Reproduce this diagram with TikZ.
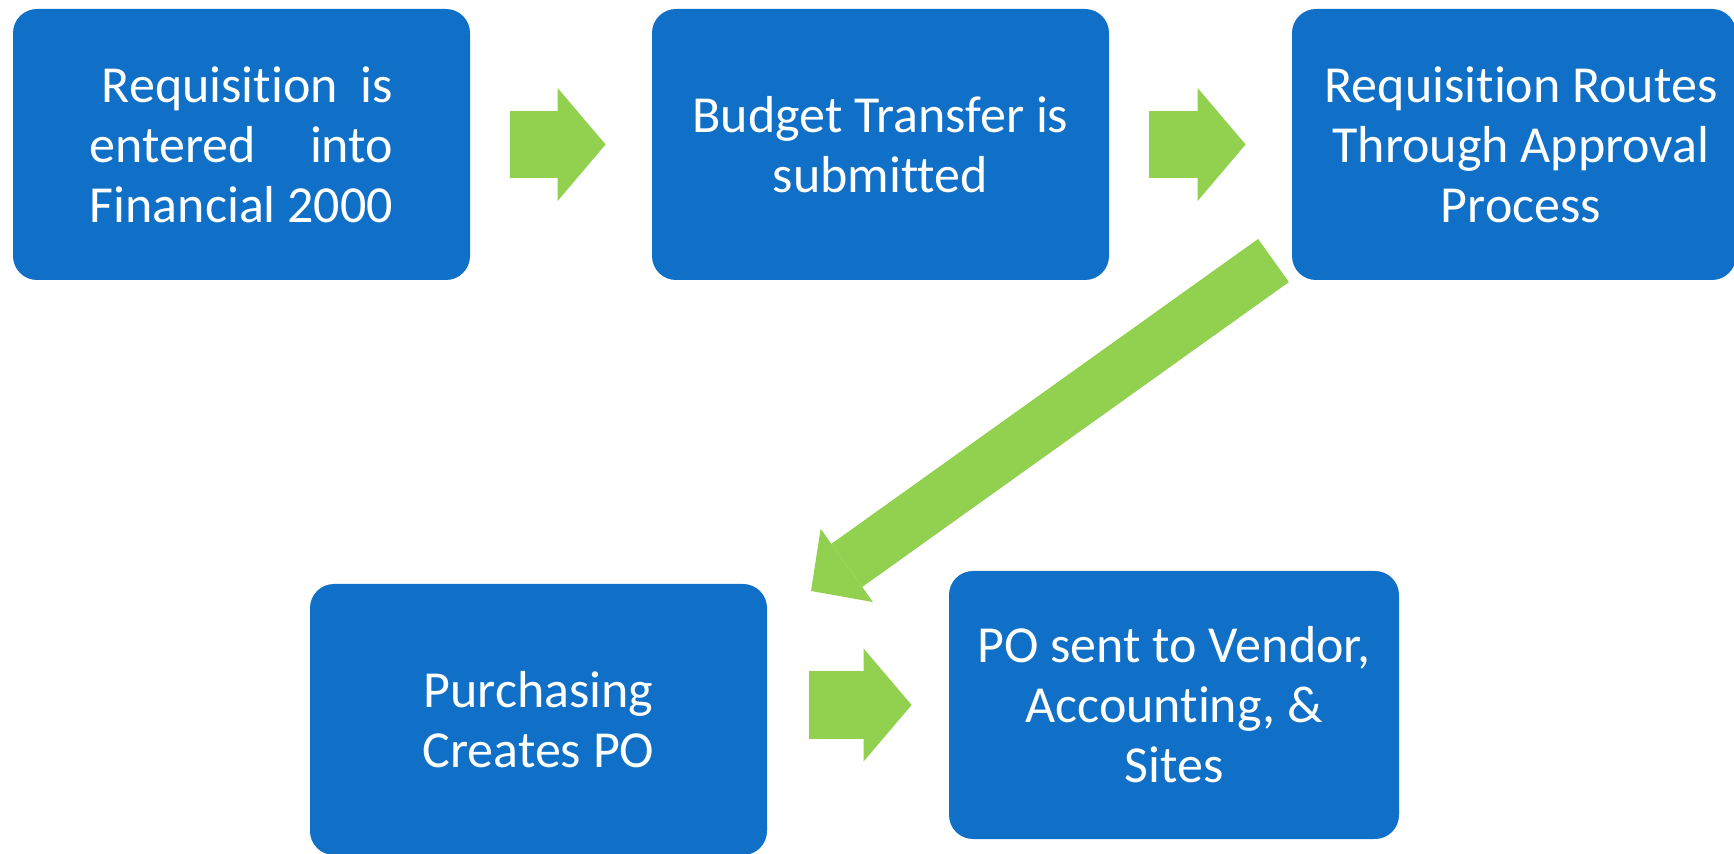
\documentclass[tikz,border=0pt]{standalone}
\usepackage{fontspec}
\setmainfont{Carlito}[Ligatures=NoCommon]
\usetikzlibrary{arrows.meta}

\definecolor{stepblue}{RGB}{16,111,198}
\definecolor{flowgreen}{RGB}{146,208,80}
\newsavebox\finbox

\begin{document}
\sbox\finbox{\fontsize{26}{30}\selectfont Financial 2000}%
\begin{tikzpicture}[x=0.5pt, y=-0.5pt,
    box/.style={fill=stepblue, text=white, rounded corners=12pt, inner sep=0pt,
      minimum width=228.5pt, minimum height=135.5pt, align=center,
      font=\fontsize{26}{30}\selectfont},
    flow/.style={draw=flowgreen, line width=33.5pt, shorten <=20pt, shorten >=23pt,
      -{Triangle[length=24pt, width=56.5pt, line width=0pt]}}]
    \useasboundingbox (0,0) rectangle (1734,854);
    \clip (0,0) rectangle (1734,854);

    \node[box] (req) at (241.5,144.5) {%
      \makebox[\wd\finbox][s]{\hspace*{6pt}Requisition is}\\
      \makebox[\wd\finbox][s]{entered into}\\
      Financial 2000};
    \node[box] (budget) at (880.5,144.5) {Budget Transfer is\\ submitted};
    \node[box, minimum width=222pt] (route) at (1514,144.5)
      {\hspace*{7pt}Requisition Routes\\ \hspace*{7pt}Through Approval\\ \hspace*{7pt}Process};
    \node[box] (purch) at (538.5,719.5) {Purchasing\\ Creates PO};
    \node[box, minimum width=225pt, minimum height=134pt] (sent) at (1174,705)
      {PO sent to Vendor,\\ Accounting, \&\\ Sites};

    \draw[flow] (req) -- (budget);
    \draw[flow] (budget) -- (route);

    % long arrow back down to the second row
    \coordinate (bendtail) at (1273.5,260.5);
    \coordinate (bendtip) at (811,591);
    \draw[flow, line width=26.5pt, shorten <=0pt, shorten >=0pt,
      -{Triangle[length=22pt, width=45pt, line width=0pt]}] (bendtail) -- (bendtip);

    \draw[flow, shorten <=21pt, shorten >=18.5pt] (purch.east |- sent.west) -- (sent.west);
\end{tikzpicture}
\end{document}
